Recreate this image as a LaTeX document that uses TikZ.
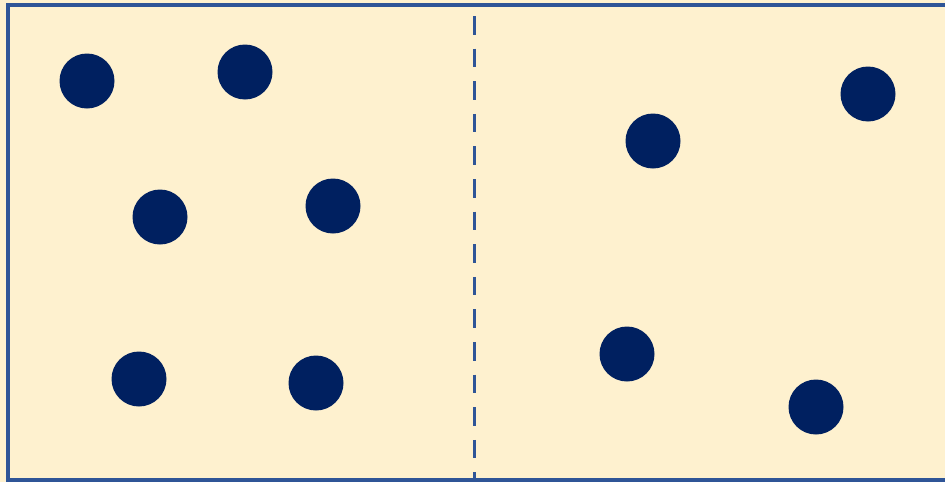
\documentclass[tikz,border=0pt]{standalone}
\definecolor{cream}{HTML}{FEF1CF}
\definecolor{edgeblue}{HTML}{2F5597}
\definecolor{navy}{HTML}{002060}
\tikzset{
  dot/.style={circle, fill=navy, minimum size=55pt, inner sep=0pt},
  frame/.style={draw=edgeblue, line width=4pt, fill=cream},
  divider/.style={draw=edgeblue, line width=3.5pt, dash pattern=on 18.6pt off 14pt}
}
\begin{document}
\begin{tikzpicture}[x=1pt,y=-1pt]
\useasboundingbox (0,0) rectangle (945,482);
\clip (0,0) rectangle (945,482);
\fill[cream] (0,0) rectangle (945,482);
\draw[frame] (8,5) rectangle (970,480);
\coordinate (dtop) at (474.5,16);
\coordinate (dbot) at (474.5,480);
\draw[divider] (dtop) -- (dbot);
\node[dot] (a1) at (87,81) {};
\node[dot] (a2) at (245,72) {};
\node[dot] (a3) at (160,217) {};
\node[dot] (a4) at (333,206) {};
\node[dot] (a5) at (139,379) {};
\node[dot] (a6) at (316,383) {};
\node[dot] (b1) at (653,141) {};
\node[dot] (b2) at (868,94) {};
\node[dot] (b3) at (627,354) {};
\node[dot] (b4) at (816,407) {};
\end{tikzpicture}
\end{document}
